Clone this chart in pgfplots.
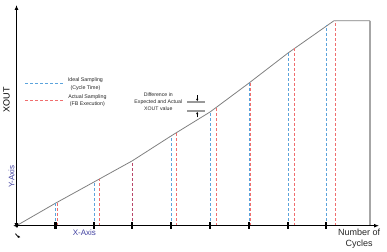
\documentclass[border=0pt]{standalone}
\usepackage{pgfplots}
\pgfplotsset{compat=1.18}
\usepackage{fontspec}
\setmainfont{Liberation Sans}
\usetikzlibrary{arrows.meta}
\definecolor{sblue}{RGB}{91,163,220}
\definecolor{sred}{RGB}{240,110,110}
\definecolor{smix}{RGB}{185,70,105}
\definecolor{curvec}{RGB}{128,128,128}
\definecolor{lbl}{RGB}{64,64,160}
\begin{document}
\begin{tikzpicture}
\begin{axis}[scale only axis, width=387pt, height=250pt,
  xmin=0, xmax=387, ymin=-24, ymax=226, hide axis, clip=false]
\path (axis cs:0,-24) rectangle (axis cs:387,226);
% main curve
\addplot[curvec, line width=0.8pt] coordinates {(16,0)(55,22.5)(94,44)(132,65)(171,90)(210,114)(249,143)(288,173)(334,205.3)(370,205.3)};
\addplot[color=gray!70, line width=1.3pt] coordinates {(370,205.3)(370,0)};
% ideal sampling
\addplot[ycomb, sblue, line width=0.9pt, dash pattern=on 3pt off 2pt] coordinates {(55,22.5)(94.3,43.8)(171,90)(210,113.8)(249.3,143)(288.3,172.7)(326.6,201)};
% actual sampling
\addplot[ycomb, sred, line width=0.9pt, dash pattern=on 3pt off 2pt] coordinates {(57.3,23.7)(99.3,47)(176,93.3)(216,118.5)(250.7,144.3)(294,177.7)(335,205)};
\addplot[ycomb, smix, line width=0.9pt, dash pattern=on 3pt off 2pt] coordinates {(132,64.8)};
% axes
\addplot[black, line width=1.3pt, {Latex[length=5pt,width=4pt]}-{Latex[length=5pt,width=4pt]}] coordinates {(16,-2.5)(16,221)};
\addplot[black, line width=1.3pt, {Latex[length=5pt,width=4pt]}-{Latex[length=5pt,width=4pt]}] coordinates {(12.5,0)(379,0)};
% ticks
\addplot[only marks, mark=|, mark size=3.8pt, mark options={line width=2.2pt, black}] coordinates {(55,0)(94,0)(132,0)(171,0)(209.5,0)(248.5,0)(287.5,0)(326,0)};
% small arrow below origin
\addplot[black, line width=0.8pt, -{Latex[length=2.5pt,width=2.5pt]}] coordinates {(15,-8)(17.5,-11)(20,-11.5)};
% legend
\addplot[sblue, line width=0.9pt, dash pattern=on 3pt off 2pt] coordinates {(25,142)(64,142)};
\addplot[sred, line width=0.9pt, dash pattern=on 3pt off 2pt] coordinates {(25,125)(64,125)};
\node[font=\fontsize{5.3}{7.5}\selectfont, align=center, text=black!85] at (axis cs:85,142) {Ideal Sampling\\(Cycle Time)};
\node[font=\fontsize{5.3}{7.5}\selectfont, align=center, text=black!85] at (axis cs:87,125) {Actual Sampling\\(FB Execution)};
% annotation
\node[font=\fontsize{5.2}{6.8}\selectfont, align=center, text=black!85] at (axis cs:158,124.3) {Difference in\\Expected and Actual\\XOUT value};
\addplot[gray!80, line width=1.4pt] coordinates {(187,123.7)(205,123.7)};
\addplot[gray!80, line width=1.4pt] coordinates {(187,115)(205,115)};
\addplot[black, line width=0.5pt, -{Latex[length=2.5pt,width=2.5pt]}] coordinates {(197,130.5)(197,124.6)};
\addplot[black, line width=0.5pt, -{Latex[length=2.5pt,width=2.5pt]}] coordinates {(197,108.5)(197,114.1)};
% labels
\node[rotate=90, font=\fontsize{9}{10}\selectfont] at (axis cs:6,126) {XOUT};
\node[rotate=90, text=lbl, font=\fontsize{8}{9}\selectfont] at (axis cs:11,49) {Y-Axis};
\node[text=lbl, font=\fontsize{8}{9}\selectfont] at (axis cs:84,-7) {X-Axis};
\node[align=center, font=\fontsize{9}{11}\selectfont, text=black!85] at (axis cs:359,-12.5) {Number of\\Cycles};
\end{axis}
\end{tikzpicture}
\end{document}
